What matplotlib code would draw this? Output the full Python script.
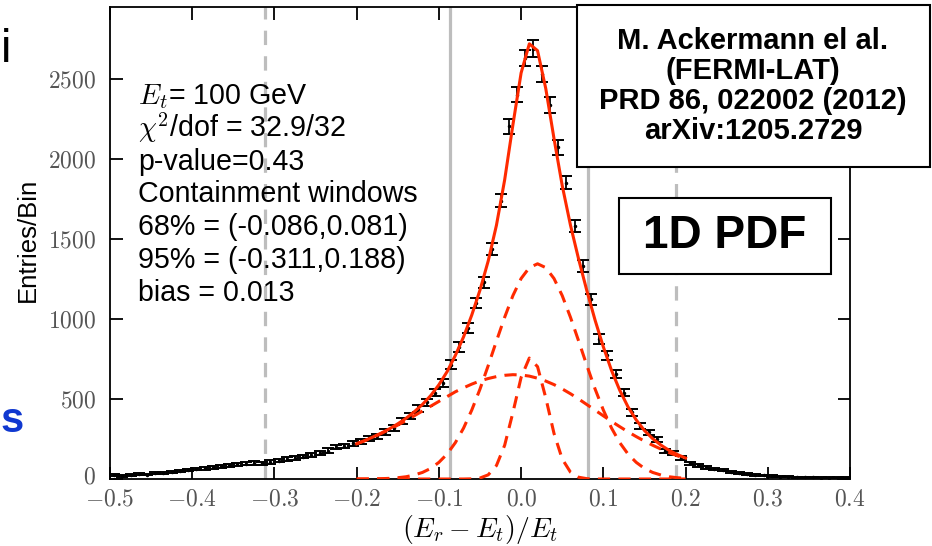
import numpy as np
import matplotlib.pyplot as plt
import matplotlib.transforms as mtransforms
from matplotlib.patches import Rectangle
from matplotlib.ticker import FuncFormatter

plt.rcParams['mathtext.fontset'] = 'cm'
plt.rcParams['font.family'] = ['Liberation Sans', 'DejaVu Sans']

# histogram: bin centres (0.01 wide bins from -0.5 to 0.4) and entries
bin_centers = np.linspace(-0.495, 0.395, 90)
counts = [24, 20, 26, 30, 28, 36, 40, 45, 50, 55,
          63, 66, 74, 80, 86, 92, 96, 100, 98, 106,
          115, 124, 133, 140, 152, 165, 178, 200, 206, 222,
          232, 252, 268, 295, 318, 360, 395, 440, 480, 540,
          600, 714, 825, 946, 1101, 1230, 1435, 1740, 2204, 2403,
          2633, 2690, 2533, 2338, 2072, 1853, 1582, 1330, 1122, 874,
          774, 657, 539, 416, 330, 292, 249, 177, 161, 130,
          98, 85, 72, 62, 55, 46, 40, 33, 27, 22,
          18, 15, 14, 12, 11, 10, 9, 9, 8, 8]

fit_x = np.linspace(-0.2, 0.2, 41)
comp_broad = [220, 240, 262, 285, 310, 337, 365, 395, 425, 455,
              485, 515, 545, 570, 593, 613, 628, 640, 648, 652,
              650, 643, 630, 612, 590, 563, 533, 500, 465, 430,
              395, 360, 327, 295, 265, 237, 211, 187, 165, 145, 127]
comp_mid = [0, 0, 1, 2, 4, 8, 14, 25, 41, 66,
            104, 156, 227, 318, 431, 562, 709, 862, 1011, 1146,
            1253, 1321, 1345, 1321, 1253, 1146, 1011, 862, 709, 562,
            431, 318, 227, 156, 104, 66, 41, 25, 14, 8, 4]
comp_narrow = [0, 0, 0, 0, 0, 0, 0, 0, 0, 0,
               0, 0, 0, 0, 1, 6, 26, 84, 211, 415,
               635, 756, 702, 507, 285, 125, 43, 11, 2, 0,
               0, 0, 0, 0, 0, 0, 0, 0, 0, 0, 0]
fit_total = np.array(comp_broad) + np.array(comp_mid) + np.array(comp_narrow)

win68 = [-0.086, 0.081]
win95 = [-0.311, 0.188]

info_lines = [r'$E_t$= 100 GeV',
              r'$\chi^2$/dof = 32.9/32',
              'p-value=0.43',
              'Containment windows',
              '68% = (-0.086,0.081)',
              '95% = (-0.311,0.188)',
              'bias = 0.013']
ref_lines = 'M. Ackermann el al.\n(FERMI-LAT)\nPRD 86, 022002 (2012)\narXiv:1205.2729'

W, H = 932, 546
fig = plt.figure(figsize=(W / 100, H / 100), dpi=100)
ax = fig.add_axes([110 / W, 67 / H, 740 / W, 472 / H])

red = '#ff2a00'
grey = '#bdbdbd'
for v in win68:
    ax.axvline(v, color=grey, lw=2.3, zorder=1)
for v in win95:
    ax.axvline(v, color=grey, lw=2.3, ls=(0, (4.5, 3.5)), zorder=1)

ax.errorbar(bin_centers, counts, yerr=np.sqrt(counts), fmt='.', ms=3,
            color='black', elinewidth=1.3, capsize=4.3, capthick=1.4, zorder=2)

for comp in [comp_broad, comp_mid, comp_narrow]:
    ax.plot(fit_x, comp, color=red, lw=2.2, ls=(0, (4, 2.7)), zorder=3)
ax.plot(fit_x, fit_total, color=red, lw=2.2, zorder=4)

ax.set_xlim(-0.5, 0.4)
ax.set_ylim(0, 2950)
ax.set_xticks([-0.5, -0.4, -0.3, -0.2, -0.1, 0.0, 0.1, 0.2, 0.3, 0.4])
ax.set_yticks([0, 500, 1000, 1500, 2000, 2500])
ax.xaxis.set_major_formatter(FuncFormatter(lambda v, p: '$%.1f$' % (round(v, 2) + 0.0)))
ax.yaxis.set_major_formatter(FuncFormatter(lambda v, p: '$%d$' % v))
ax.tick_params(direction='in', top=True, right=True, length=9, width=1.3,
               labelsize=17, labelcolor='#555555')
ax.tick_params(axis='x', pad=7)
ax.tick_params(axis='y', pad=10)
for s in ax.spines.values():
    s.set_linewidth(1.3)

# lift the "0" label a little so it clears the -0.5 label below it
zero_lbl = ax.yaxis.get_major_ticks()[0].label1
zero_lbl.set_transform(zero_lbl.get_transform() +
                       mtransforms.ScaledTranslation(0, 4 / 100, fig.dpi_scale_trans))

fig.text(28 / W, 1 - 240 / H, 'Entries/Bin', rotation=90, fontsize=18.5,
         ha='center', va='center')
fig.text(480 / W, 1 - 529 / H, r'$(E_r - E_t)/E_t$', fontsize=20,
         ha='center', va='center')

for i, line in enumerate(info_lines):
    fig.text(138 / W, 1 - (104 + 32.8 * i) / H, line, fontsize=20.6,
             ha='left', va='baseline')

# reference box
fig.patches.append(Rectangle((577 / W, 1 - 167 / H), 353 / W, 162 / H,
                             transform=fig.transFigure, fc='white', ec='black',
                             lw=1.5, zorder=5))
fig.text(753 / W, 1 - 86 / H, ref_lines, fontsize=21, fontweight='bold',
         ha='center', va='center', linespacing=1.1, zorder=6)

# 1D PDF box
fig.patches.append(Rectangle((619 / W, 1 - 274 / H), 212 / W, 76 / H,
                             transform=fig.transFigure, fc='white', ec='black',
                             lw=1.5, zorder=5))
fig.text(725 / W, 1 - 236 / H, '1D PDF', fontsize=33, fontweight='bold',
         ha='center', va='center', zorder=6)

# slide text cut off at the left edge
fig.text(1 / W, 1 - 62 / H, 'i', fontsize=34, ha='left', va='baseline')
fig.text(0.5 / W, 1 - 432 / H, 's', fontsize=30, fontweight='bold',
         color='#1038d0', ha='left', va='baseline')

fig.savefig('out.png', dpi=100)
